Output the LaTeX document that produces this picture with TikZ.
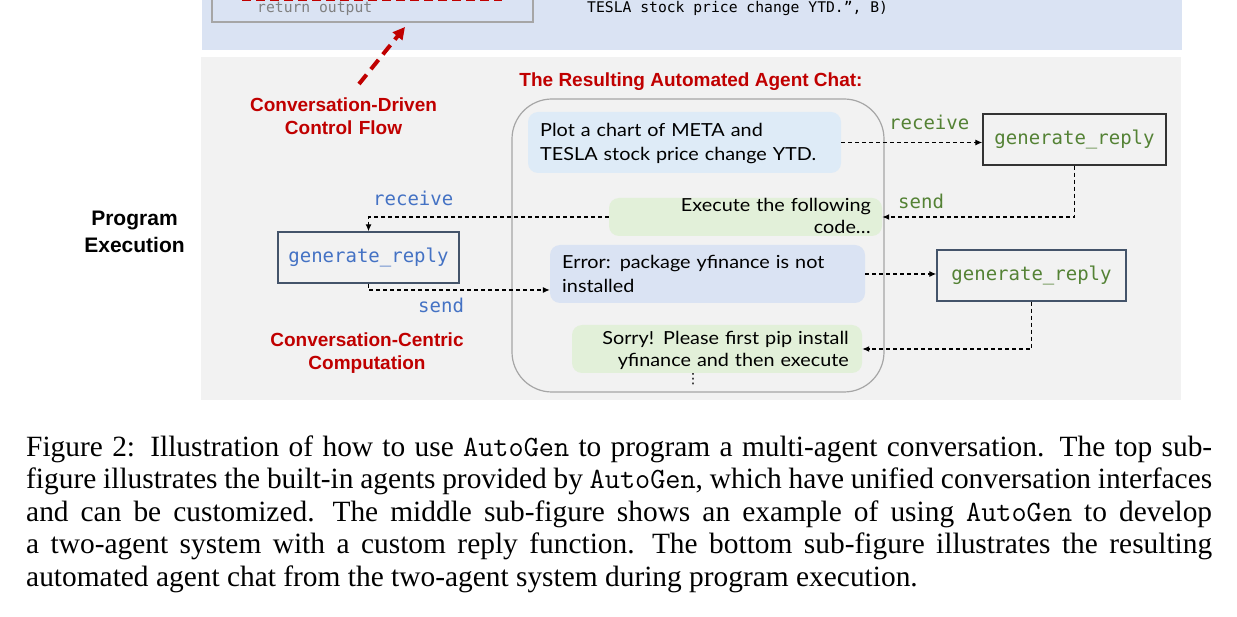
\documentclass[tikz,border=0pt]{standalone}
\usepackage{fontspec}
\setmainfont{Liberation Serif}
\newfontfamily\arialf{Liberation Sans}
\newfontfamily\monof{DejaVu Sans Mono}
\newfontfamily\chatf[FakeStretch=1.1]{Lato}
\newfontfamily\symf{DejaVu Sans}
\usetikzlibrary{arrows.meta,calc}
\definecolor{panelblue}{HTML}{DAE3F3}
\definecolor{panelgray}{HTML}{F2F2F2}
\definecolor{bubblue}{HTML}{DEEBF7}
\definecolor{bubbluetwo}{HTML}{DAE3F3}
\definecolor{bubgreen}{HTML}{E2F0D9}
\definecolor{redlab}{HTML}{C00000}
\definecolor{txtgreen}{HTML}{548235}
\definecolor{txtblue}{HTML}{4472C4}
\definecolor{boxedge}{HTML}{44546A}
\definecolor{chatedge}{HTML}{A6A6A6}
\newcommand{\capfont}{\fontsize{29.4}{32.6}\selectfont
  \spaceskip=0.25em plus 0.4em minus 0.12em
  \xspaceskip=0.45em plus 0.4em minus 0.12em
  \tolerance=9999\hyphenpenalty=10000\exhyphenpenalty=10000}
\begin{document}
\begin{tikzpicture}[x=1pt,y=-1pt,
  bubble/.style={draw=none,rounded corners=10pt,inner sep=0pt},
  genbox/.style={draw=boxedge,line width=1.4pt,fill=none,inner sep=0pt,
    minimum height=51pt,font=\monof\fontsize{19}{22}\selectfont},
  conn/.style={line width=1.2pt,dash pattern=on 4pt off 3pt,
    -{Latex[length=7pt,width=6pt]}},
  lbl/.style={anchor=base west,inner sep=0pt,font=\monof\fontsize{19}{22}\selectfont},
  redlbl/.style={anchor=base,inner sep=0pt,text=redlab,align=center,text width=300pt},
  chattxt/.style={inner sep=0pt,text width=320pt}]
\useasboundingbox (0,0) rectangle (1237,617);
\fill[white] (0,0) rectangle (1237,617);
% top panel
\fill[panelblue] (202,-10) rectangle (1182,50);
\draw[chatedge,line width=1.3pt] (212,-20) rectangle (533,22);
\draw[redlab,line width=4pt,dash pattern=on 9pt off 5pt] (242,-1) -- (502,-1);
\node[anchor=base west,inner sep=0pt,text=gray,font=\monof\fontsize{14.7}{16}\selectfont] (retout) at (257,13) {return output};
\node[anchor=base west,inner sep=0pt,font=\monof\fontsize{14.7}{16}\selectfont] (tesla) at (587,13) {TESLA stock price change YTD.”, B)};
\coordinate (cdhead) at (405,27);
% bottom panel
\fill[panelgray] (201,57) rectangle (1181,400);
\coordinate (cdtail) at (359,84);
\draw[redlab,line width=4pt,dash pattern=on 12pt off 7pt,-{Triangle[length=12pt,width=12pt]}] (cdtail) -- (cdhead);
\node[redlbl,font=\arialf\bfseries\fontsize{19}{23}\selectfont] (cdlabel) at (343.5,112) {Conversation-Driven\\Control Flow};
\node[redlbl,font=\arialf\bfseries\fontsize{19}{22.5}\selectfont] (cclabel) at (367,347) {Conversation-Centric\\Computation};
\node[redlbl,text=black,text width=200pt,font=\arialf\bfseries\fontsize{21}{27}\selectfont] (prog) at (134.5,226) {Program\\Execution};
\node[anchor=base,inner sep=0pt,text=redlab,font=\arialf\bfseries\fontsize{19}{23}\selectfont] (title) at (691,87) {The Resulting Automated Agent Chat:};
% chat container
\node[draw=chatedge,line width=1.2pt,rounded corners=40pt,minimum width=372pt,minimum height=293pt,inner sep=0pt] (chat) at (698,245.5) {};
% bubbles
\node[bubble,fill=bubblue,minimum width=313pt,minimum height=61pt] (b1) at (684.5,142.5) {};
\node[bubble,fill=bubgreen,minimum width=273pt,minimum height=38pt] (b2) at (745.5,217) {};
\node[bubble,fill=bubbluetwo,minimum width=315pt,minimum height=58pt] (b3) at (707.5,274) {};
\node[bubble,fill=bubgreen,minimum width=290pt,minimum height=48pt] (b4) at (717,349) {};
\node[chattxt,anchor=base west,align=left,font=\chatf\fontsize{18}{24}\selectfont] (t1) at (540,137) {Plot a chart of META and\\TESLA stock price change YTD.};
\node[chattxt,anchor=base east,align=right,font=\chatf\fontsize{18}{22}\selectfont] (t2) at (871,212) {Execute the following\\code…};
\node[chattxt,anchor=base west,align=left,font=\chatf\fontsize{18}{24}\selectfont] (t3) at (562,269) {Error: package yfinance is not\\installed};
\node[chattxt,anchor=base east,align=right,font=\chatf\fontsize{18}{22}\selectfont] (t4) at (849,345) {Sorry! Please first pip install\\yfinance and then execute};
\node[inner sep=0pt,font=\symf\fontsize{14}{14}\selectfont] (dots) at (693,379) {⋮};
% agents
\node[genbox,draw=black!80,minimum width=183pt,text=txtgreen] (g1) at (1074.5,139.5) {generate\_reply};
\node[genbox,minimum width=189pt,text=txtgreen] (g2) at (1031.5,275.5) {generate\_reply};
\node[genbox,minimum width=181pt,text=txtblue] (gL) at (368.5,257.5) {generate\_reply};
% connectors
\draw[conn] (b1.east) -- (b1.east -| g1.west);
\draw[conn] (g1.south) |- (b2.east);
\draw[conn] (b2.west) -| (gL.north);
\draw[conn] (gL.south) |- ($(b3.west)+(0,16)$);
\draw[conn] (b3.east) -- (b3.east -| g2.west);
\draw[conn] (g2.south) |- (b4.east);
% labels
\node[lbl,text=txtgreen] (rcv1) at (889,130) {receive};
\node[lbl,text=txtgreen] (snd1) at (898,209) {send};
\node[lbl,text=txtblue] (rcv2) at (373,206) {receive};
\node[lbl,text=txtblue] (snd2) at (418,313) {send};
% caption
\node[anchor=base west,inner sep=0pt,text width=1186pt,align=justify,font=\capfont] (cap) at (26,456) {Figure 2: Illustration of how to use \texttt{AutoGen} to program a multi-agent conversation. The top sub-\linebreak
figure illustrates the built-in agents provided by \texttt{AutoGen}, which have unified conversation interfaces\linebreak
and can be customized. The middle sub-figure shows an example of using \texttt{AutoGen} to develop\linebreak
a two-agent system with a custom reply function. The bottom sub-figure illustrates the resulting\linebreak
automated agent chat from the two-agent system during program execution.};
\end{tikzpicture}
\end{document}
